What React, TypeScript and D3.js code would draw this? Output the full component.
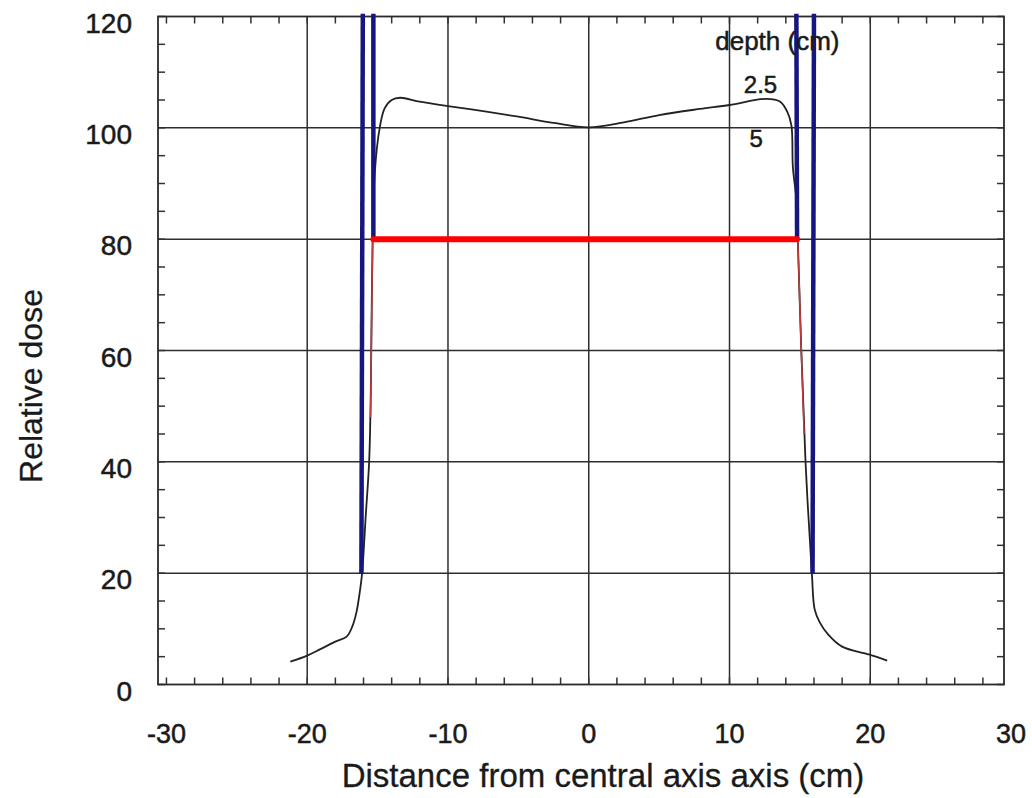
import React from 'react';
import * as d3 from 'd3';

// dose profile (distance cm, relative dose %)
const profileX = [-21.2, -20.0, -19.1, -18.0, -17.2, -16.8, -16.5, -16.3, -16.1, -15.85, -15.6, -15.5, -15.45, -15.35, -15.2, -14.85, -14.5, -14.0, -13.4, -12.0, -10.0, -7.5, -5.0, -2.5, 0, 2.5, 5.0, 7.9, 10.0, 12.6, 13.6, 14.1, 14.4, 14.5, 14.75, 14.85, 15.1, 15.4, 15.85, 16.05, 16.4, 17.0, 18.0, 19.9, 21.2];
const profileY = [4.1, 5.2, 6.3, 7.7, 8.6, 10.4, 13, 16, 20, 30, 40, 50, 60, 80, 92, 100, 103.5, 105, 105.4, 104.7, 103.9, 103.0, 102.0, 100.9, 100.1, 101.0, 102.3, 103.4, 104.1, 105.2, 104.7, 102.9, 100.4, 93, 87, 80, 60, 40, 20, 13.5, 11.2, 9, 6.8, 5.4, 4.3];

// reddish trace on the penumbra
const leftTraceX = [-15.35, -15.45, -15.5];
const leftTraceY = [80, 60, 48];
const rightTraceX = [14.85, 15.1, 15.3];
const rightTraceY = [80, 60, 45];

// blue marker lines, top and bottom ends
const blueX1 = [-16.05, -15.3, 14.75, 16.0];
const blueY1 = [120.5, 120.5, 120.5, 120.5];
const blueX2 = [-16.15, -15.3, 14.8, 15.9];
const blueY2 = [20, 80, 80, 20];

// red 80% width line
const redX = [-15.3, 14.8];
const redY = 80;

const xTicks = [-30, -20, -10, 0, 10, 20, 30];
const yTicks = [0, 20, 40, 60, 80, 100, 120];
const xGrid = [-20, -10, 0, 10, 20];
const yGrid = [20, 40, 60, 80, 100];

const depthLabels = ['depth (cm)', '2.5', '5'];
const depthLabelX = [13.4, 12.2, 11.9];
const depthLabelY = [113.9, 106.3, 96.6];

const FONT = 'Liberation Sans, Arial, Helvetica, sans-serif';

export default function App() {
  const width = 1032;
  const height = 798;
  const left = 158, right = 1004, top = 16.5, bottom = 684.5;

  const x = d3.scaleLinear().domain([-30.6, 29.5]).range([left, right]);
  const y = d3.scaleLinear().domain([0, 120]).range([bottom, top]);

  const line = d3.line<[number, number]>()
    .x(d => x(d[0]))
    .y(d => y(d[1]))
    .curve(d3.curveCatmullRom.alpha(0.5));

  const profile = profileX.map((v, i) => [v, profileY[i]] as [number, number]);
  const leftTrace = leftTraceX.map((v, i) => [v, leftTraceY[i]] as [number, number]);
  const rightTrace = rightTraceX.map((v, i) => [v, rightTraceY[i]] as [number, number]);

  const minorX = d3.range(-30, 29, 2);
  const minorY = d3.range(0, 121, 5);

  const textStyle = { fontFamily: FONT, fill: '#1a1a1a', stroke: '#1a1a1a', strokeWidth: 0.5 };

  return (
    <svg width={width} height={height} style={{ position: 'absolute', left: 0, top: 0, background: '#fff' }}>
      <rect width={width} height={height} fill="#fff" />

      {/* grid */}
      {xGrid.map(v => (
        <line key={'gx' + v} x1={x(v)} x2={x(v)} y1={top} y2={bottom} stroke="#2e2e2e" strokeWidth={1.5} />
      ))}
      {yGrid.map(v => (
        <line key={'gy' + v} x1={left} x2={right} y1={y(v)} y2={y(v)} stroke="#2e2e2e" strokeWidth={1.5} />
      ))}

      {/* minor ticks, inside frame */}
      {minorX.map(v => (
        <g key={'mx' + v}>
          <line x1={x(v)} x2={x(v)} y1={bottom} y2={bottom - 7} stroke="#333" strokeWidth={1.5} />
          <line x1={x(v)} x2={x(v)} y1={top} y2={top + 7} stroke="#333" strokeWidth={1.5} />
        </g>
      ))}
      {minorY.map(v => (
        <g key={'my' + v}>
          <line x1={left} x2={left + 7} y1={y(v)} y2={y(v)} stroke="#333" strokeWidth={1.5} />
          <line x1={right} x2={right - 7} y1={y(v)} y2={y(v)} stroke="#333" strokeWidth={1.5} />
        </g>
      ))}

      {/* frame */}
      <rect x={left} y={top} width={right - left} height={bottom - top} fill="none" stroke="#2a2a2a" strokeWidth={1.8} />

      {/* profile curve */}
      <path d={line(profile) || ''} fill="none" stroke="#222" strokeWidth={1.8} />
      <path d={line(leftTrace) || ''} fill="none" stroke="#c23b3b" strokeWidth={1.5} />
      <path d={line(rightTrace) || ''} fill="none" stroke="#c23b3b" strokeWidth={1.5} />

      {/* blue lines */}
      {blueX1.map((v, i) => (
        <line key={'b' + i} x1={x(v)} y1={y(blueY1[i])} x2={x(blueX2[i])} y2={y(blueY2[i])}
          stroke="#16167f" strokeWidth={4.5} />
      ))}

      {/* red line */}
      <line x1={x(redX[0])} x2={x(redX[1])} y1={y(redY)} y2={y(redY)} stroke="#ff0000" strokeWidth={6} strokeLinecap="round" />

      {/* depth labels */}
      {depthLabels.map((t, i) => (
        <text key={t} x={x(depthLabelX[i])} y={y(depthLabelY[i])} textAnchor="middle"
          fontSize={i === 0 ? 26 : 24} {...textStyle}>{t}</text>
      ))}

      {/* y tick labels */}
      {yTicks.map(v => (
        <text key={'ty' + v} x={left - 26} y={y(v) + 16} textAnchor="end" fontSize={28} {...textStyle}>{v}</text>
      ))}
      {/* x tick labels */}
      {xTicks.map(v => (
        <text key={'tx' + v} x={x(v)} y={743} textAnchor="middle" fontSize={27} {...textStyle}>{v}</text>
      ))}

      {/* axis titles */}
      <text x={603} y={787} textAnchor="middle" fontSize={33} {...textStyle} strokeWidth={0.3}>
        Distance from central axis axis (cm)
      </text>
      <text transform="translate(42,386) rotate(-90)" textAnchor="middle" fontSize={32} {...textStyle} strokeWidth={0.3}>
        Relative dose
      </text>
    </svg>
  );
}
